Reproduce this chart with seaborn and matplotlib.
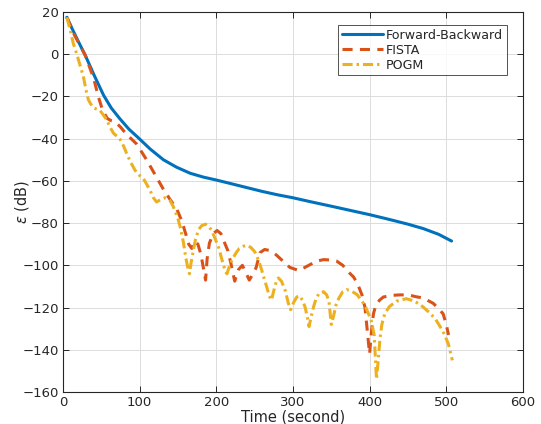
import numpy as np
import pandas as pd
import matplotlib
matplotlib.use('Agg')
import matplotlib.pyplot as plt
import seaborn as sns

# Data
fb_t = [5, 12, 20, 29, 40, 53, 63, 74, 86, 98, 114, 131, 148, 166, 183, 200, 218, 240,
        260, 280, 300, 322, 350, 375, 400, 425, 450, 470, 490, 507]
fb_db = [17.5, 12, 6, -0.5, -9.5, -19.5, -25.5, -30.5, -35.5, -39.5, -45, -50, -53.5, -56.4,
         -58.2, -59.6, -61.2, -63.2, -65, -66.6, -68, -69.8, -72, -74, -76, -78.2, -80.5,
         -82.6, -85.3, -88.5]

fista_t = [5, 15, 29, 40, 46, 52, 58, 63, 68, 75, 83, 96, 109, 120, 131, 140, 148, 155, 160,
           164, 168, 172, 176, 180, 183, 186, 188, 191, 196, 201, 206, 211, 215, 219, 224,
           229, 234, 238, 243, 248, 252, 257, 263, 270, 278, 287, 296, 308, 318, 331, 340,
           350, 357, 365, 372, 379, 384, 390, 394, 397, 400, 402, 405, 408, 413, 418, 430,
           440, 450, 461, 470, 483, 490, 496, 500, 503]
fista_db = [17.5, 9, -0.5, -11.5, -20, -27, -30.5, -31.5, -32, -34.5, -38, -42.5, -50, -57,
            -64, -69, -73, -79, -85, -90, -92, -88.5, -90, -95, -101, -107, -97, -89.5, -85,
            -83.5, -85, -89.5, -93, -99, -107.5, -102, -100, -103, -107, -104, -101, -94,
            -92.5, -93, -95, -98, -101, -102.5, -100.5, -98, -97.3, -97.5, -98, -100, -103,
            -105.5, -108.5, -114, -120, -131, -142, -133, -123, -119, -116.5, -115, -114.2,
            -114, -114, -114.9, -115.5, -118, -120.5, -123, -128, -133]

pogm_t = [5, 9, 13.5, 18, 22, 26.5, 30, 33, 36, 40, 48, 53, 57, 62, 66, 74, 79, 83, 88, 94,
          100, 105, 109, 113.5, 118, 122, 127, 133, 139, 143, 146, 150, 153, 157, 160, 163,
          165, 167, 170, 173, 177, 181, 186, 190, 194, 198, 203, 206, 209, 212, 214, 217,
          221, 226, 230, 235, 240, 245, 250, 255, 259, 263, 266, 269, 272, 275, 278, 281,
          285, 290, 294, 297, 301, 305, 309, 313, 316, 319, 321, 324, 327, 330, 334, 340,
          344, 347, 350, 353, 356, 360, 365, 370, 375, 380, 384, 389, 394, 398, 402, 406,
          409, 411, 413.5, 416, 420, 426, 435, 448, 459, 469, 479, 486, 492, 498, 503, 506,
          508]
pogm_db = [17.5, 12, 5, 0, -5, -10.5, -17, -21.5, -23.5, -25.5, -26.5, -29, -31, -35, -37.5,
           -40, -43.5, -47, -51, -55, -57.5, -59, -61.5, -64.5, -68, -70, -69, -68, -69,
           -71.5, -74, -78, -82, -89, -96, -101.5, -104, -99, -93, -87.5, -83, -81.2, -80.5,
           -81.5, -83.5, -87, -91.5, -95.5, -99.5, -103, -104, -100.5, -97, -94, -92, -91,
           -90.5, -91.5, -93.5, -97.5, -102, -107, -110.5, -114.5, -116.5, -112, -108, -106,
           -107.5, -112, -118, -121, -117.5, -115, -114.5, -117, -120, -125, -129, -124,
           -119.5, -116, -113.3, -112.5, -114, -117, -128, -124, -119, -115.5, -112.5,
           -111.5, -112, -113, -114, -116.5, -119, -122.5, -126, -133, -154, -146, -135,
           -128, -122.7, -119.5, -117, -115.8, -117, -119.5, -122.7, -125.5, -129, -133,
           -137.5, -142, -145]

sns.set_theme(style='whitegrid')
plt.rcParams['font.family'] = ['DejaVu Sans']

fig = plt.figure(figsize=(5.41, 4.24), dpi=100)
ax = fig.add_axes([0.1165, 0.0755, 0.85, 0.8962])

sns.lineplot(x=fb_t, y=fb_db, ax=ax, color='#0072BD', lw=2.2, label='Forward-Backward',
             sort=False, estimator=None)
sns.lineplot(x=fista_t, y=fista_db, ax=ax, color='#D95319', lw=2.2,
             linestyle=(0, (3.3, 2.4)), label='FISTA', sort=False, estimator=None)
sns.lineplot(x=pogm_t, y=pogm_db, ax=ax, color='#EDB120', lw=2.2,
             linestyle=(0, (3.3, 1.3, 0.8, 1.3)), label='POGM', sort=False, estimator=None)

ax.set_xlim(0, 600)
ax.set_ylim(-160, 20)
ax.set_xticks(range(0, 601, 100))
ax.set_yticks(range(-160, 21, 20))

ax.set_facecolor('white')
ax.grid(True, color='#dcdcdc', lw=0.7)
for s in ax.spines.values():
    s.set_color('#262626')
    s.set_linewidth(0.8)
ax.tick_params(direction='in', length=4, width=0.7, colors='#262626', labelsize=9.5,
               top=True, right=True, bottom=True, left=True, pad=3)

ax.set_xlabel('Time (second)', fontsize=10.5, color='#262626', labelpad=0)
ax.set_ylabel(r'$\epsilon$ (dB)', fontsize=10.5, color='#262626', labelpad=-6)

leg = ax.legend(loc='upper right', bbox_to_anchor=(0.965, 0.966), fontsize=9.1,
                frameon=True, fancybox=False, edgecolor='#262626', handlelength=3.3,
                handletextpad=0.2, borderpad=0.3, labelspacing=0.15, borderaxespad=0)
leg.get_frame().set_linewidth(0.7)

fig.savefig('out.png', dpi=100, facecolor='white')
